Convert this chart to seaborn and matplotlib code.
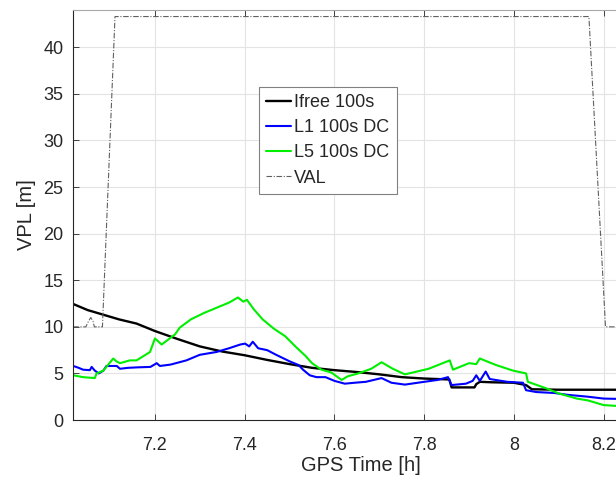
import pandas as pd
import seaborn as sns
import matplotlib.pyplot as plt

# GPS time [h] and VPL [m]
ifree_t = [7.018, 7.05, 7.085, 7.12, 7.159, 7.20, 7.25, 7.30, 7.35, 7.40, 7.45, 7.50,
           7.55, 7.60, 7.65, 7.70, 7.75, 7.80, 7.856, 7.861, 7.912, 7.916, 7.924, 7.95,
           8.00, 8.027, 8.04, 8.10, 8.30]
ifree_v = [12.45, 11.8, 11.3, 10.8, 10.35, 9.55, 8.7, 7.9, 7.35, 6.95, 6.45, 6.0,
           5.6, 5.35, 5.15, 4.9, 4.6, 4.45, 4.35, 3.5, 3.5, 3.85, 4.1, 4.05,
           4.0, 3.75, 3.3, 3.25, 3.25]

l1_t = [7.018, 7.030, 7.040, 7.055, 7.059, 7.066, 7.075, 7.085, 7.092, 7.115, 7.122,
        7.14, 7.16, 7.19, 7.204, 7.211, 7.235, 7.27, 7.30, 7.337, 7.365, 7.39, 7.401,
        7.41, 7.418, 7.43, 7.45, 7.47, 7.50, 7.52, 7.53, 7.545, 7.56, 7.58, 7.60,
        7.623, 7.645, 7.67, 7.705, 7.727, 7.757, 7.80, 7.83, 7.853, 7.861, 7.893,
        7.908, 7.916, 7.924, 7.937, 7.946, 7.985, 8.02, 8.027, 8.05, 8.09, 8.12,
        8.165, 8.2, 8.30]
l1_v = [5.8, 5.6, 5.4, 5.35, 5.7, 5.3, 5.0, 5.3, 5.8, 5.8, 5.5,
        5.6, 5.65, 5.7, 6.1, 5.8, 5.95, 6.4, 7.0, 7.3, 7.7, 8.1, 8.2,
        7.9, 8.4, 7.7, 7.5, 7.0, 6.3, 5.9, 5.4, 4.8, 4.6, 4.6, 4.2,
        3.9, 4.0, 4.1, 4.5, 4.0, 3.8, 4.1, 4.3, 4.6, 3.75, 3.9,
        4.2, 4.8, 4.2, 5.2, 4.4, 4.1, 4.0, 3.2, 3.0, 2.9, 2.7,
        2.5, 2.3, 2.2]

l5_t = [7.018, 7.040, 7.066, 7.070, 7.085, 7.107, 7.114, 7.122, 7.144, 7.159, 7.189,
        7.200, 7.215, 7.226, 7.245, 7.255, 7.28, 7.31, 7.34, 7.365, 7.385, 7.397,
        7.405, 7.42, 7.44, 7.465, 7.49, 7.515, 7.535, 7.55, 7.571, 7.593, 7.616,
        7.63, 7.653, 7.682, 7.705, 7.73, 7.757, 7.81, 7.857, 7.864, 7.90, 7.916,
        7.924, 7.96, 7.998, 8.027, 8.031, 8.072, 8.10, 8.14, 8.165, 8.2, 8.30]
l5_v = [4.8, 4.6, 4.5, 5.0, 5.3, 6.6, 6.3, 6.1, 6.4, 6.4, 7.3,
        8.75, 8.1, 8.5, 9.2, 9.9, 10.8, 11.5, 12.1, 12.6, 13.15, 12.7,
        12.9, 11.9, 10.8, 9.8, 9.0, 7.8, 6.9, 6.1, 5.4, 5.1, 4.3,
        4.7, 5.0, 5.5, 6.2, 5.5, 4.9, 5.5, 6.4, 5.4, 6.1, 6.0,
        6.6, 5.9, 5.3, 5.0, 4.1, 3.4, 2.85, 2.3, 2.1, 1.6, 1.3]

val_t = [7.018, 7.046, 7.052, 7.057, 7.062, 7.065, 7.083, 7.111, 8.167, 8.204, 8.30]
val_v = [10.0, 10.0, 10.6, 11.0, 10.6, 10.0, 10.0, 43.3, 43.3, 10.0, 10.0]

sns.set_theme(style="whitegrid")
plt.rcParams['font.family'] = ['Liberation Sans', 'DejaVu Sans']

fig = plt.figure(figsize=(6.16, 4.82), dpi=100)
ax = fig.add_axes([0.1185, 0.1286, 0.9344, 0.8506])

sns.lineplot(x=ifree_t, y=ifree_v, ax=ax, color='black', lw=1.7, label='Ifree 100s',
             sort=False, estimator=None)
sns.lineplot(x=l1_t, y=l1_v, ax=ax, color='#0000ff', lw=1.5, label='L1 100s DC',
             sort=False, estimator=None)
sns.lineplot(x=l5_t, y=l5_v, ax=ax, color='#00ee00', lw=1.5, label='L5 100s DC',
             sort=False, estimator=None)
sns.lineplot(x=val_t, y=val_v, ax=ax, color='#606060', lw=0.8, ls=(0, (5, 1.5, 1, 1.5)),
             label='VAL', sort=False, estimator=None)

ax.set_xlim(7.0174, 8.30)
ax.set_ylim(0, 44)
ax.set_xticks([7.2, 7.4, 7.6, 7.8, 8.0, 8.2])
ax.set_xticklabels(['7.2', '7.4', '7.6', '7.8', '8', '8.2'])
ax.set_yticks(range(0, 45, 5))
ax.tick_params(axis='both', labelsize=13, colors='#262626', direction='in',
               length=4, width=0.6, top=True, bottom=True, left=True)
ax.tick_params(axis='x', pad=12)
ax.tick_params(axis='y', pad=7)
ax.grid(True, color='#e3e3e3', lw=0.8)
ax.set_facecolor('white')
for side in ['left', 'bottom']:
    ax.spines[side].set_color('#262626')
    ax.spines[side].set_linewidth(0.8)
ax.spines['top'].set_color('#a8a8a8')
ax.spines['top'].set_linewidth(0.8)
ax.spines['right'].set_visible(False)

ax.set_xlabel('GPS Time [h]', fontsize=14.5, color='#262626', labelpad=2)
ax.set_ylabel('VPL [m]', fontsize=14.5, color='#262626', labelpad=5)

leg = ax.legend(loc='upper left', bbox_to_anchor=(259 / 616, 1 - 87 / 482),
                bbox_transform=fig.transFigure, fontsize=13, frameon=True,
                fancybox=False, shadow=False, handlelength=1.35, handletextpad=0.2,
                labelspacing=0.45, borderpad=0.4, borderaxespad=0)
leg.get_frame().set_edgecolor('#808080')
leg.get_frame().set_linewidth(0.8)
leg.get_frame().set_alpha(1)

fig.savefig('out.png', dpi=100)
